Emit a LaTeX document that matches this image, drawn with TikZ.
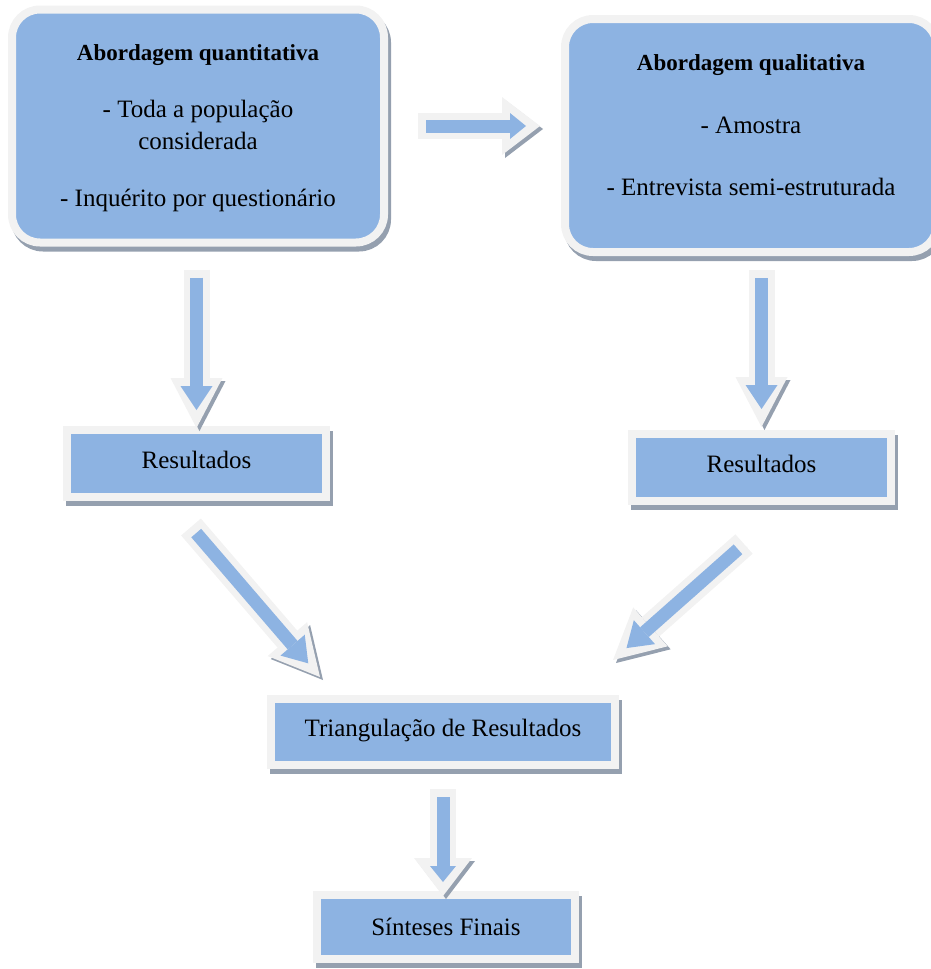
\documentclass[tikz,border=0pt]{standalone}
\usepackage{fontspec}
\setmainfont{Liberation Serif}
\usetikzlibrary{arrows.meta}

\definecolor{azul}{HTML}{8DB3E2}
\definecolor{cinza}{HTML}{F2F2F2}
\definecolor{sombra}{HTML}{95A0AF}

\begin{document}
\begin{tikzpicture}[
    x=1pt, y=-1pt,
    every node/.style={outer sep=0pt, inner sep=0pt}
]

\tikzset{
  box/.style={rectangle, fill=azul, draw=cinza, line width=8pt, align=center,
    preaction={draw=sombra, fill=sombra, transform canvas={shift={(3,5)}}},
    font=\fontsize{25}{32}\selectfont},
  roundbox/.style={box, rounded corners=28pt, minimum width=372pt, minimum height=233pt},
  resbox/.style={box, minimum width=259pt, minimum height=67pt, text height=9pt, text depth=0pt},
  bigarrow/.style={draw=cinza, line width=26pt,
    -{Triangle[width=52pt, length=50pt, line width=0pt]},
    preaction={draw=sombra, transform canvas={shift={(3,3)}}},
    postaction={draw=azul, line width=13pt,
      -{Triangle[width=32pt, length=24pt, line width=0pt]},
      shorten <=8pt, shorten >=18pt}},
  flatarrow/.style={draw=cinza, line width=26pt,
    -{Triangle[width=58pt, length=38pt, line width=0pt]},
    preaction={draw=sombra, transform canvas={shift={(3,3)}}},
    postaction={draw=azul, line width=13pt,
      -{Triangle[width=26pt, length=16pt, line width=0pt]},
      shorten <=8pt, shorten >=14pt}}
}

\useasboundingbox (0,0) rectangle (931,969);
\clip (0,0) rectangle (931,969);

% ================= Abordagens =================

\node[roundbox, text depth=1pt] (quan) at (198,126)
  {{\fontsize{23}{32}\selectfont\bfseries Abordagem quantitativa}\\[25pt]
   - Toda a população\\ considerada\\[25pt]
   - Inquérito por questionário};

\node[roundbox, text depth=20pt] (qual) at (751,135.5)
  {{\fontsize{23}{32}\selectfont\bfseries Abordagem qualitativa}\\[31pt]
   - Amostra\\[30pt]
   - Entrevista semi-estruturada};

% ================= Resultados =================

\node[resbox] (resL) at (196.5,463.5) {Resultados};
\node[resbox] (resR) at (761.5,467.5) {Resultados};

\node[box, minimum width=344pt, minimum height=66pt, text height=8pt, text depth=0pt]
  (tri) at (443,732) {Triangulação de Resultados};

\node[box, minimum width=258pt, minimum height=64pt, text height=16pt, text depth=0pt]
  (sint) at (446,927) {Sínteses Finais};

% ================= Setas =================

\draw[flatarrow] ([xshift=34pt]quan.east) -- ([xshift=-25pt]quan.east -| qual.west);

\draw[bigarrow] ([yshift=-27pt]quan.south -| resL.north) -- ([yshift=2pt]resL.north);
\draw[bigarrow] ([yshift=-18pt]qual.south -| resR.north) -- ([yshift=7pt]resR.north);

\draw[bigarrow] ([xshift=-5.5pt, yshift=-30pt]resL.south) -- ([xshift=49pt, yshift=22pt]tri.north west);
\draw[bigarrow] ([xshift=-17.5pt, yshift=-43pt]resR.south) -- ([xshift=-2pt, yshift=39pt]tri.north east);

\draw[flatarrow] ([yshift=-24pt]tri.south) -- ([yshift=-1pt]tri.south |- sint.north);

\end{tikzpicture}
\end{document}
